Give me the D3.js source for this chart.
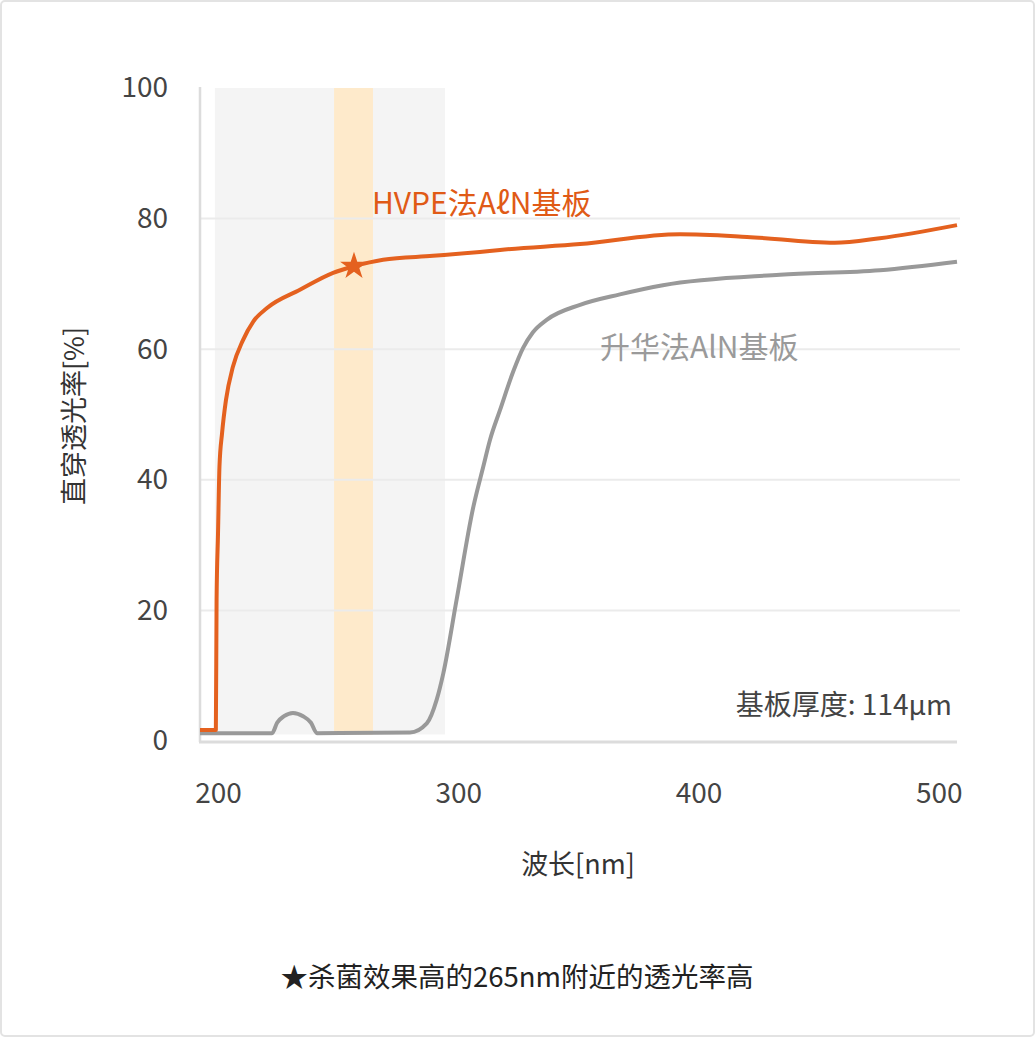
<!DOCTYPE html>
<html>
<head>
<meta charset="utf-8">
<script src="https://cdn.jsdelivr.net/npm/d3@7"></script>
<style>
  html, body { margin: 0; padding: 0; background: #fff; }
  svg text { font-family: "Noto Sans CJK SC", "Noto Sans", sans-serif; }
</style>
</head>
<body>
<div id="chart"></div>
<script>
// wavelength [nm] and direct transmittance [%]
const hvpeWave = [192.5, 199.1, 199.4, 200.0, 200.6, 201.7, 203.3, 206.2, 210.4, 214.6, 220.4, 234.1, 247.9, 256.6, 268.7, 289.5, 309.0, 317.4, 350.7, 392.3, 420.2, 456.7, 475.5, 507.6];
const hvpeTrans = [1.7, 1.7, 21.6, 31.8, 42.0, 47.2, 52.2, 57.3, 61.4, 64.2, 66.3, 69.1, 71.7, 72.7, 73.7, 74.3, 74.9, 75.2, 76.1, 77.6, 77.2, 76.3, 77.0, 79.0];

const sublWave = [192.5, 222.5, 224.6, 227.5, 231.2, 235.4, 238.7, 241.2, 279.9, 286.9, 291.0, 293.8, 299.3, 306.3, 310.4, 313.2, 317.4, 322.8, 327.0, 331.1, 336.8, 350.7, 367.3, 385.2, 433.9, 475.5, 507.6];
const sublTrans = [1.2, 1.2, 2.8, 3.8, 4.3, 3.8, 2.8, 1.2, 1.3, 2.7, 6.3, 10.4, 21.6, 35.9, 42.0, 46.1, 50.7, 56.5, 60.2, 62.6, 64.5, 66.8, 68.4, 69.8, 71.4, 72.1, 73.4];

const xTicks = [200, 300, 400, 500];
const yTicks = [0, 20, 40, 60, 80, 100];
const gridValues = [20, 40, 60, 80];

const uvBand = [198.7, 294.5];      // grey shaded range
const germBand = [248.3, 264.5];    // orange shaded range
const starPoint = [256.6, 72.7];

const W = 1035, H = 1037;
const svg = d3.select('#chart').append('svg')
    .attr('width', W)
    .attr('height', H);

// card border
svg.append('rect')
    .attr('x', 1).attr('y', 1)
    .attr('width', W - 2).attr('height', H - 2)
    .attr('rx', 4)
    .attr('fill', '#fff')
    .attr('stroke', '#e3e3e3')
    .attr('stroke-width', 2);

const x = d3.scaleLinear().domain([192.5, 507.6]).range([200, 957]);
const y = d3.scaleLinear().domain([0, 100]).range([741, 88]);

// shaded bands
svg.append('rect')
    .attr('x', x(uvBand[0]))
    .attr('width', x(uvBand[1]) - x(uvBand[0]))
    .attr('y', y(100))
    .attr('height', y(1) - y(100))
    .attr('fill', '#f4f4f4');

svg.append('rect')
    .attr('x', x(germBand[0]))
    .attr('width', x(germBand[1]) - x(germBand[0]))
    .attr('y', y(100))
    .attr('height', y(1) - y(100))
    .attr('fill', '#feeacb');

// grid lines
svg.selectAll('.grid')
    .data(gridValues)
    .enter()
    .append('line')
    .attr('class', 'grid')
    .attr('x1', 200).attr('x2', 960)
    .attr('y1', d => y(d)).attr('y2', d => y(d))
    .attr('stroke', '#ebebeb')
    .attr('stroke-width', 2);

// axis lines
svg.append('line')
    .attr('x1', 200).attr('x2', 200)
    .attr('y1', y(100) - 1).attr('y2', y(0) + 1)
    .attr('stroke', '#dcdcdc')
    .attr('stroke-width', 2.5);

svg.append('line')
    .attr('x1', 199).attr('x2', 957)
    .attr('y1', y(0) + 1).attr('y2', y(0) + 1)
    .attr('stroke', '#dcdcdc')
    .attr('stroke-width', 3);

// tick labels
const yAxis = svg.append('g')
    .attr('transform', 'translate(200,0)')
    .call(d3.axisLeft(y).tickValues(yTicks).tickSize(0).tickPadding(32));
const xAxis = svg.append('g')
    .attr('transform', `translate(0,${y(0) + 1})`)
    .call(d3.axisBottom(x).tickValues(xTicks).tickSize(0).tickPadding(41));

[yAxis, xAxis].forEach(ax => {
    ax.select('.domain').remove();
    ax.selectAll('text')
        .attr('fill', '#444')
        .style('font-size', '28px');
});

// curves
const line = d3.line()
    .x(d => x(d[0]))
    .y(d => y(d[1]))
    .curve(d3.curveMonotoneX);

svg.append('path')
    .datum(sublWave.map((w, i) => [w, sublTrans[i]]))
    .attr('d', line)
    .attr('fill', 'none')
    .attr('stroke', '#999')
    .attr('stroke-width', 4)
    .attr('stroke-linejoin', 'round');

svg.append('path')
    .datum(hvpeWave.map((w, i) => [w, hvpeTrans[i]]))
    .attr('d', line)
    .attr('fill', 'none')
    .attr('stroke', '#e4611f')
    .attr('stroke-width', 4)
    .attr('stroke-linejoin', 'round');

svg.append('path')
    .attr('d', d3.symbol().type(d3.symbolStar).size(240)())
    .attr('transform', `translate(${x(starPoint[0])},${y(starPoint[1])})`)
    .attr('fill', '#e4611f');

// series labels
svg.append('text')
    .attr('x', 372).attr('y', 203)
    .attr('dy', '0.35em')
    .attr('fill', '#e05a16')
    .style('font-size', '30px')
    .text('HVPE法AℓN基板');

svg.append('text')
    .attr('x', 600).attr('y', 347)
    .attr('dy', '0.35em')
    .attr('fill', '#9a9a9a')
    .style('font-size', '30px')
    .text('升华法AlN基板');

svg.append('text')
    .attr('x', 952).attr('y', 705)
    .attr('dy', '0.35em')
    .attr('text-anchor', 'end')
    .attr('fill', '#444')
    .style('font-size', '28px')
    .text('基板厚度: 114µm');

// axis titles
svg.append('text')
    .attr('transform', 'translate(75,416) rotate(-90)')
    .attr('dy', '0.35em')
    .attr('text-anchor', 'middle')
    .attr('fill', '#333')
    .style('font-size', '27px')
    .text('直穿透光率[%]');

svg.append('text')
    .attr('x', 578).attr('y', 865)
    .attr('dy', '0.35em')
    .attr('text-anchor', 'middle')
    .attr('fill', '#333')
    .style('font-size', '27px')
    .text('波长[nm]');

svg.append('text')
    .attr('x', 517).attr('y', 977)
    .attr('dy', '0.35em')
    .attr('text-anchor', 'middle')
    .attr('fill', '#222')
    .style('font-size', '27.5px')
    .text('★杀菌效果高的265nm附近的透光率高');
</script>
</body>
</html>
